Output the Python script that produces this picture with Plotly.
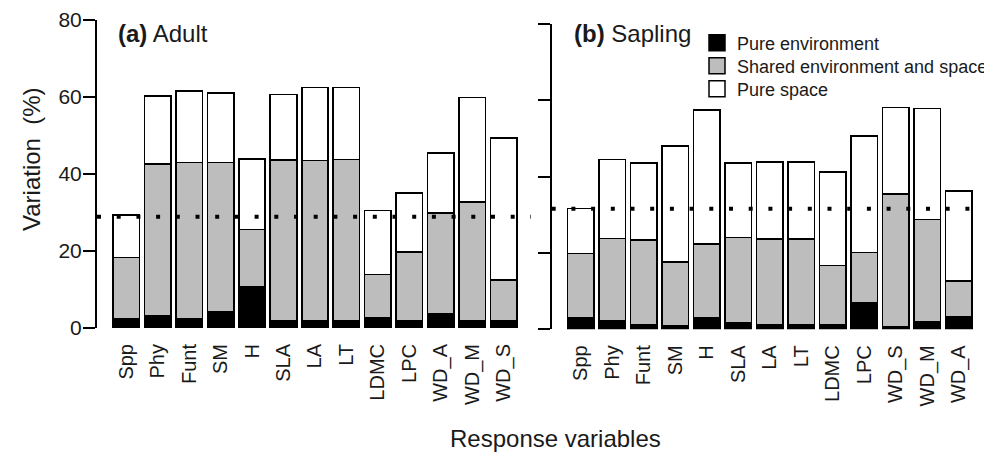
import plotly.graph_objects as go

# ---------------- data ----------------
adult_vars = ["Spp", "Phy", "Funt", "SM", "H", "SLA", "LA", "LT", "LDMC", "LPC", "WD_A", "WD_M", "WD_S"]
adult_pure_env = [2.5, 3.1, 2.5, 4.2, 10.7, 1.8, 1.8, 1.8, 2.7, 1.8, 3.6, 1.8, 1.8]
adult_shared = [15.8, 39.5, 40.5, 38.8, 14.9, 41.8, 41.7, 42.0, 11.2, 18.0, 26.2, 31.0, 10.7]
adult_pure_space = [11.1, 17.7, 18.6, 18.1, 18.3, 17.0, 19.0, 18.7, 16.6, 15.2, 15.7, 27.1, 36.9]
adult_reference = 28.9

sapling_vars = ["Spp", "Phy", "Funt", "SM", "H", "SLA", "LA", "LT", "LDMC", "LPC", "WD_S", "WD_M", "WD_A"]
sapling_pure_env = [3.0, 2.3, 1.3, 0.9, 2.9, 1.7, 1.3, 1.3, 1.3, 7.0, 0.7, 2.0, 3.3]
sapling_shared = [16.9, 21.5, 22.1, 16.7, 19.4, 22.4, 22.4, 22.4, 15.4, 13.1, 34.7, 26.8, 9.4]
sapling_pure_space = [11.8, 20.7, 20.1, 30.5, 35.2, 19.4, 20.2, 20.2, 24.5, 30.6, 22.7, 29.1, 23.6]
sapling_reference = 31.6

component_names = ["Pure environment", "Shared environment and space", "Pure space"]
y_ticks = [0, 20, 40, 60, 80]

# ---------------- style ----------------
FONT = "Liberation Sans, Arial, Helvetica, sans-serif"
INK = "#1a1a1a"
colors = ["#000000", "#bdbdbd", "#ffffff"]
OFF = 8                      # page body margin
W, H = 992 - OFF, 452 - OFF  # figure size so it fits the window


def fx(p):  # page pixel x -> paper fraction
    return (p - OFF) / W


def fy(p):  # page pixel y -> paper fraction
    return 1 - (p - OFF) / H


fig = go.Figure()

panels = [
    (adult_vars, [adult_pure_env, adult_shared, adult_pure_space], "x", "y"),
    (sapling_vars, [sapling_pure_env, sapling_shared, sapling_pure_space], "x2", "y2"),
]
for cats, series, xa, ya in panels:
    for name, vals, col in zip(component_names, series, colors):
        fig.add_trace(go.Bar(
            x=cats, y=vals, name=name, xaxis=xa, yaxis=ya,
            marker=dict(color=col, line=dict(color="#000000", width=1.6)),
            showlegend=False, hoverinfo="x+y+name",
        ))

# legend entries: one small legend per row for exact placement
legend_ids = ["legend", "legend2", "legend3"]
legend_rows_px = [43, 66, 89]
for name, col, lid in zip(component_names, colors, legend_ids):
    fig.add_trace(go.Scatter(
        x=[None], y=[None], mode="markers", name=name, legend=lid,
        marker=dict(symbol="square", size=16, color=col, line=dict(color="#000000", width=1.5)),
        showlegend=True, xaxis="x2", yaxis="y2",
    ))

# reference dotted lines
for ref, xa, ya in [(adult_reference, "x", "y"), (sapling_reference, "x2", "y2")]:
    fig.add_shape(type="line", xref=f"{xa} domain", yref=ya, x0=0, x1=1, y0=ref, y1=ref,
                  line=dict(color="#000000", width=4, dash="4px,15.7px"), layer="above")

xcommon = dict(type="category", showline=False, showgrid=False, zeroline=False, ticks="",
               tickangle=-90, tickfont=dict(family=FONT, size=20, color=INK),
               ticklabelstandoff=11, fixedrange=True, automargin=False)
ycommon = dict(range=[0, 80], tickvals=y_ticks, showline=True, linecolor="#000000", linewidth=2,
               ticks="outside", ticklen=12, tickwidth=2, tickcolor="#000000",
               showgrid=False, zeroline=False, tickfont=dict(family=FONT, size=21, color=INK),
               ticklabelstandoff=-3, fixedrange=True, automargin=False)

legend_style = dict(xanchor="left", yanchor="middle", font=dict(family=FONT, size=18, color=INK),
                    bgcolor="rgba(0,0,0,0)", borderwidth=0, itemwidth=30)

layout_legends = {}
for lid, row in zip(legend_ids, legend_rows_px):
    layout_legends[lid] = dict(x=fx(697), y=fy(row), **legend_style)

fig.update_layout(
    width=W, height=H, autosize=False,
    margin=dict(l=0, r=0, t=0, b=0, autoexpand=False),
    paper_bgcolor="white", plot_bgcolor="white",
    barmode="stack", bargap=0.16,
    font=dict(family=FONT, color=INK),
    xaxis=dict(domain=[fx(97), fx(531)], range=[-0.93, 12.87], anchor="y", **xcommon),
    xaxis2=dict(domain=[fx(551.7), fx(984)], range=[-0.92, 12.8], anchor="y2", **xcommon),
    yaxis=dict(domain=[fy(328), fy(20)], anchor="x", **ycommon),
    yaxis2=dict(domain=[fy(329.3), fy(24)], anchor="x2", showticklabels=False, **ycommon),
    showlegend=True,
    annotations=[
        dict(text="<b>(a)</b> Adult", xref="paper", yref="paper", x=fx(116), y=fy(34),
             xanchor="left", yanchor="middle", showarrow=False,
             font=dict(family=FONT, size=24, color=INK)),
        dict(text="<b>(b)</b> Sapling", xref="paper", yref="paper", x=fx(572), y=fy(34),
             xanchor="left", yanchor="middle", showarrow=False,
             font=dict(family=FONT, size=24, color=INK)),
        dict(text="Variation  (%)", xref="paper", yref="paper", x=fx(31), y=fy(159),
             xanchor="center", yanchor="middle", textangle=-90, showarrow=False,
             font=dict(family=FONT, size=24, color=INK)),
        dict(text="Response variables", xref="paper", yref="paper", x=fx(555), y=fy(438),
             xanchor="center", yanchor="middle", showarrow=False,
             font=dict(family=FONT, size=24, color=INK)),
    ],
    **layout_legends,
)

fig.write_html("out.html")
